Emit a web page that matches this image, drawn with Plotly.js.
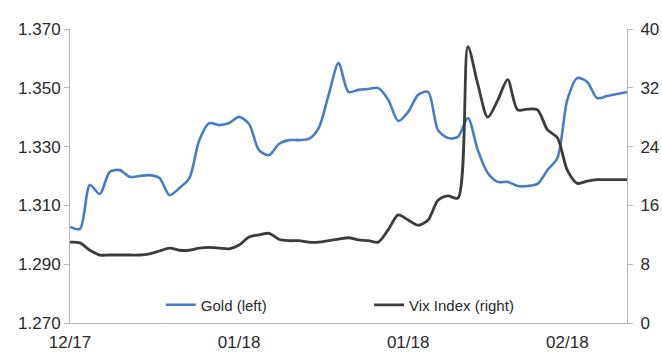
<!DOCTYPE html>
<html>
<head>
<meta charset="utf-8">
<script src="https://cdn.plot.ly/plotly-3.0.1.min.js"></script>
<style>html,body{margin:0;padding:0;background:#fff;}#chart{width:662px;height:354px;}</style>
</head>
<body>
<div id="chart"></div>
<script>
// trading-day index
const days = [];
for (let i = 0; i < 57; i++) days.push(i);

const tickPositions = [0, 17, 34, 50];
const tickLabels = ["12/17", "01/18", "01/18", "02/18"];

const gold = [
  1.3027, 1.3020, 1.3169, 1.3139, 1.3214, 1.3220, 1.3197, 1.3200, 1.3203, 1.3193,
  1.3135, 1.3159, 1.3193, 1.3322, 1.3380, 1.3373, 1.3380, 1.3401, 1.3377, 1.3288,
  1.3271, 1.3309, 1.3322, 1.3322, 1.3326, 1.3363, 1.3476, 1.3584, 1.3486, 1.3493,
  1.3496, 1.3499, 1.3459, 1.3387, 1.3418, 1.3476, 1.3486, 1.3356, 1.3329, 1.3333,
  1.3397, 1.3288, 1.3210, 1.3180, 1.3180, 1.3166, 1.3166, 1.3173, 1.3220, 1.3261,
  1.3459, 1.3533, 1.3520, 1.3465, 1.3472, 1.3479, 1.3486
];

const vix = [
  11.0, 10.9, 9.9, 9.25, 9.25, 9.25, 9.25, 9.25, 9.4, 9.8,
  10.2, 9.9, 9.9, 10.2, 10.3, 10.2, 10.1, 10.6, 11.7, 12.0,
  12.2, 11.4, 11.2, 11.2, 11.0, 11.0, 11.2, 11.4, 11.6, 11.3,
  11.2, 11.0, 12.7, 14.7, 14.0, 13.3, 14.0, 16.7, 17.3, 17.0,
  37.6, 32.5, 28.0, 30.3, 33.1, 29.0, 29.1, 29.0, 26.3, 25.2,
  20.8, 19.0, 19.3, 19.5, 19.5, 19.5, 19.5
];

const traces = [
  {
    x: days, y: gold, name: "Gold (left)", type: "scatter", mode: "lines",
    line: {color: "#4a7cc6", width: 2.6, shape: "spline", smoothing: 0.8},
    yaxis: "y", legend: "legend"
  },
  {
    x: days, y: vix, name: "Vix Index (right)", type: "scatter", mode: "lines",
    line: {color: "#3c3c3c", width: 2.8, shape: "spline", smoothing: 0.8},
    yaxis: "y2", legend: "legend2"
  }
];

const axisFont = {family: "Liberation Sans, Arial, sans-serif", size: 17, color: "#2a2a2a"};
const legendFont = {family: "Liberation Sans, Arial, sans-serif", size: 15, color: "#2a2a2a"};

const layout = {
  width: 662, height: 354,
  margin: {l: 70, r: 35, t: 29, b: 31},
  paper_bgcolor: "#ffffff", plot_bgcolor: "#ffffff",
  showlegend: true,
  xaxis: {
    range: [0, 56], showgrid: false, zeroline: false,
    showline: true, linecolor: "#b5b5b5", linewidth: 1,
    tickvals: tickPositions, ticktext: tickLabels,
    ticks: "", tickfont: axisFont, ticklabelstandoff: 4
  },
  yaxis: {
    range: [1.27, 1.37], dtick: 0.02, tick0: 1.27, tickformat: ".3f",
    showgrid: false, zeroline: false,
    showline: true, linecolor: "#b5b5b5", linewidth: 1,
    ticks: "outside", ticklen: 5, tickcolor: "#b5b5b5",
    tickfont: axisFont
  },
  yaxis2: {
    range: [0, 40], dtick: 8, tick0: 0,
    overlaying: "y", side: "right",
    showgrid: false, zeroline: false,
    showline: true, linecolor: "#b5b5b5", linewidth: 1,
    ticks: "outside", ticklen: 5, tickcolor: "#b5b5b5",
    tickfont: axisFont, ticklabelstandoff: 4
  },
  legend: {
    x: 0.163, y: 0.061, xanchor: "left", yanchor: "middle",
    bgcolor: "rgba(0,0,0,0)", font: legendFont, itemwidth: 30
  },
  legend2: {
    x: 0.537, y: 0.061, xanchor: "left", yanchor: "middle",
    bgcolor: "rgba(0,0,0,0)", font: legendFont, itemwidth: 30
  }
};

Plotly.newPlot("chart", traces, layout, {displayModeBar: false, staticPlot: true});
</script>
</body>
</html>
